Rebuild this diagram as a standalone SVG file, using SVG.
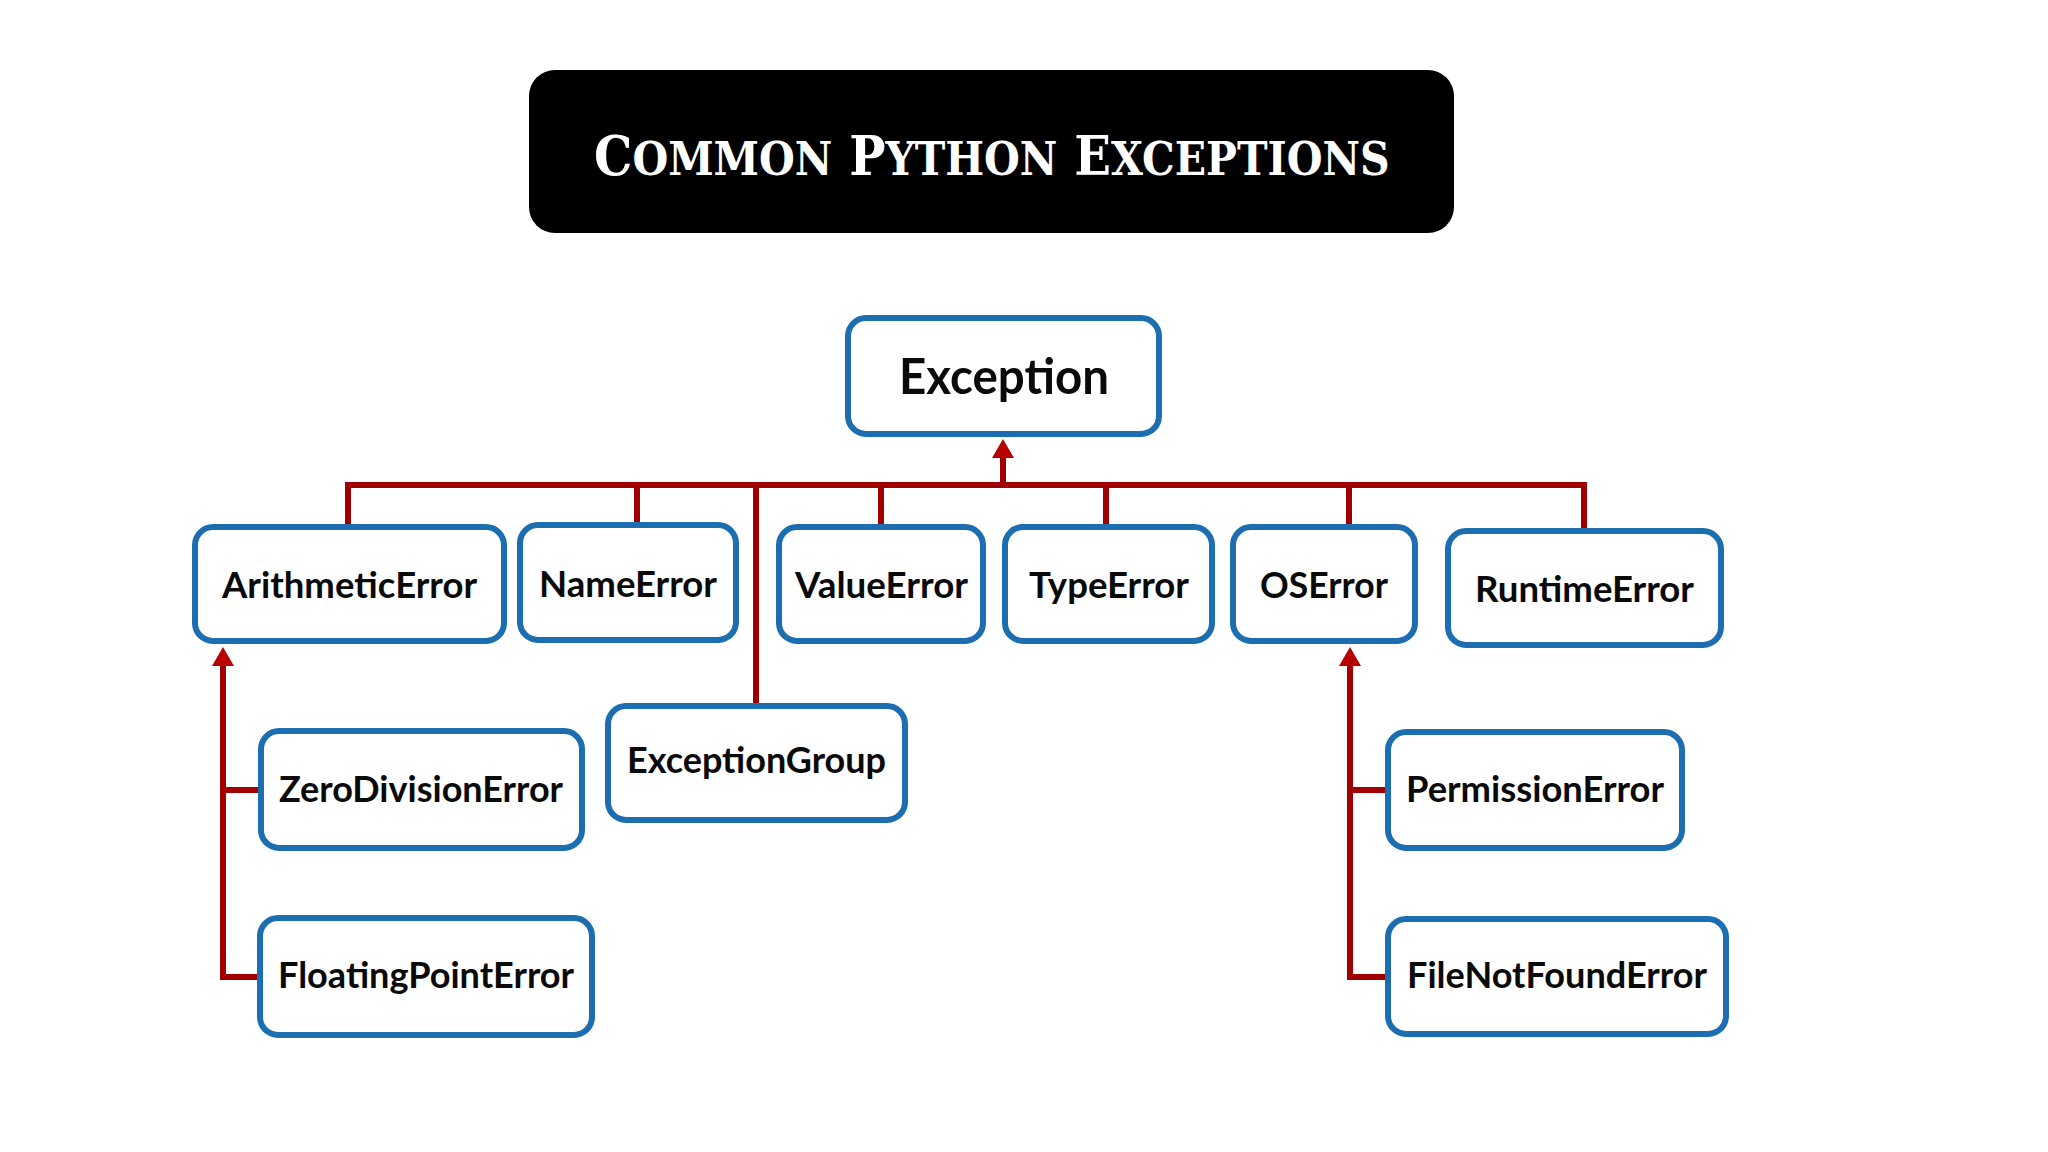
<svg xmlns="http://www.w3.org/2000/svg" width="2048" height="1152" viewBox="0 0 2048 1152">
<style>
.node rect{fill:#ffffff;stroke:#1C6EB0;stroke-width:6}
.node text{font-family:Lato,"Open Sans",sans-serif;font-weight:700;font-size:37px;fill:#0a0a0a}
.conn path{fill:none;stroke:#A00000;stroke-width:6}
.title{font-family:"DejaVu Serif","Liberation Serif",serif;font-weight:700;fill:#ffffff}
</style>
<defs>
<marker id="arr" markerUnits="userSpaceOnUse" markerWidth="24" markerHeight="26" refX="0" refY="11" orient="auto" overflow="visible">
<path d="M0,0 L19,11 L0,22 Z" fill="#B80000"/>
</marker>
</defs>
<rect width="2048" height="1152" fill="#ffffff"/>
<g id="title">
<rect x="529" y="70" width="925" height="163" rx="26" fill="#000000"/>
<g transform="translate(594,175) scale(0.893,1)">
<text class="title" x="0" y="0"><tspan font-size="54">C</tspan><tspan font-size="46">OMMON</tspan><tspan font-size="54"> P</tspan><tspan font-size="46">YTHON</tspan><tspan font-size="54"> E</tspan><tspan font-size="46">XCEPTIONS</tspan></text>
</g>
</g>
<g id="connectors" class="conn">
<path d="M348,524 V485 H1584 V528"/>
<path d="M637,485 V522"/>
<path d="M756,485 V703"/>
<path d="M881,485 V524"/>
<path d="M1106,485 V524"/>
<path d="M1349,485 V524"/>
<path d="M1003,485 V458" marker-end="url(#arr)"/>
<path d="M259,977 H223 V666" marker-end="url(#arr)"/>
<path d="M223,790 H259"/>
<path d="M1385,977 H1350 V666" marker-end="url(#arr)"/>
<path d="M1350,790 H1385"/>
</g>
<g id="n-exception" class="node"><rect x="848" y="318" width="311" height="116" rx="18"/><text x="899" y="394" style="font-size:50px" textLength="210" lengthAdjust="spacingAndGlyphs">Exception</text></g>
<g id="n-arithmetic" class="node"><rect x="195" y="527" width="309" height="114" rx="18"/><text x="222" y="598" textLength="255" lengthAdjust="spacingAndGlyphs">ArithmeticError</text></g>
<g id="n-name" class="node"><rect x="520" y="525" width="216" height="115" rx="18"/><text x="539" y="597" textLength="178" lengthAdjust="spacingAndGlyphs">NameError</text></g>
<g id="n-value" class="node"><rect x="779" y="527" width="204" height="114" rx="18"/><text x="795" y="598" textLength="173" lengthAdjust="spacingAndGlyphs">ValueError</text></g>
<g id="n-type" class="node"><rect x="1005" y="527" width="207" height="114" rx="18"/><text x="1029" y="598" textLength="160" lengthAdjust="spacingAndGlyphs">TypeError</text></g>
<g id="n-os" class="node"><rect x="1233" y="527" width="182" height="114" rx="18"/><text x="1260" y="598" textLength="128" lengthAdjust="spacingAndGlyphs">OSError</text></g>
<g id="n-runtime" class="node"><rect x="1448" y="531" width="273" height="114" rx="18"/><text x="1475" y="602" textLength="219" lengthAdjust="spacingAndGlyphs">RuntimeError</text></g>
<g id="n-zerodivision" class="node"><rect x="261" y="731" width="321" height="117" rx="18"/><text x="279" y="802" textLength="284" lengthAdjust="spacingAndGlyphs">ZeroDivisionError</text></g>
<g id="n-exceptiongroup" class="node"><rect x="608" y="706" width="297" height="114" rx="18"/><text x="627" y="773" textLength="259" lengthAdjust="spacingAndGlyphs">ExceptionGroup</text></g>
<g id="n-floatingpoint" class="node"><rect x="260" y="918" width="332" height="117" rx="18"/><text x="278" y="988" textLength="296" lengthAdjust="spacingAndGlyphs">FloatingPointError</text></g>
<g id="n-permission" class="node"><rect x="1388" y="732" width="294" height="116" rx="18"/><text x="1406" y="802" textLength="258" lengthAdjust="spacingAndGlyphs">PermissionError</text></g>
<g id="n-filenotfound" class="node"><rect x="1388" y="919" width="338" height="115" rx="18"/><text x="1407" y="988" textLength="300" lengthAdjust="spacingAndGlyphs">FileNotFoundError</text></g>
</svg>
